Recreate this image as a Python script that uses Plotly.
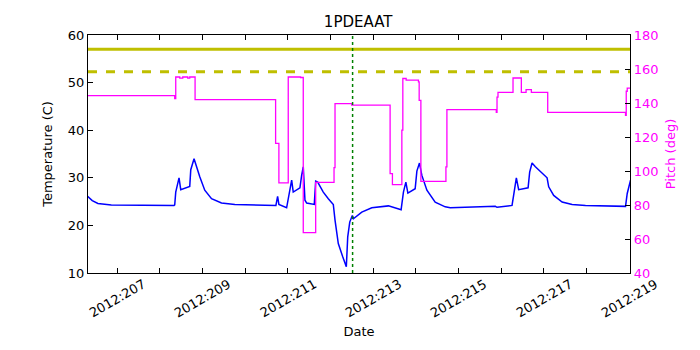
import plotly.graph_objects as go

# temperature (left axis), day-of-year 2012
temp_day = [206.31, 206.42, 206.552, 206.866, 208.336, 208.352, 208.376, 208.453, 208.493, 208.704,
            208.728, 208.805, 208.939, 209.056, 209.214, 209.448, 209.761, 210.582, 210.723, 210.763,
            210.793, 210.974, 211.028, 211.092, 211.129, 211.286, 211.326, 211.364, 211.404, 211.444,
            211.622, 211.655, 211.702, 211.833, 211.951, 212.068, 212.108, 212.185, 212.289, 212.373,
            212.406, 212.453, 212.514, 212.538, 212.735, 212.97, 213.359, 213.657, 213.711, 213.768,
            213.815, 213.986, 214.026, 214.087, 214.143, 214.261, 214.455, 214.69, 214.808, 215.864,
            215.904, 216.256, 216.293, 216.357, 216.411, 216.632, 216.669, 216.725, 216.803, 216.96,
            217.077, 217.115, 217.232, 217.43, 217.664, 217.977, 218.915, 218.955, 219.033]
temp_val = [26.1, 25.2, 24.6, 24.3, 24.2, 24.3, 27.0, 30.0, 27.5, 28.2,
            31.7, 34.0, 30.2, 27.4, 25.6, 24.7, 24.4, 24.3, 24.2, 26.1,
            24.4, 23.7, 26.3, 29.5, 27.0, 27.9, 30.5, 32.3, 25.3, 24.7,
            24.4, 29.3, 29.1, 27.0, 25.6, 24.4, 21.1, 16.2, 13.4, 11.3,
            17.6, 20.7, 22.1, 21.4, 22.8, 23.7, 24.1, 23.3, 27.0, 29.1,
            26.8, 27.7, 31.4, 33.1, 30.5, 27.4, 24.9, 23.9, 23.7, 24.0,
            23.8, 24.2, 26.3, 30.0, 27.5, 27.9, 31.2, 33.1, 32.3, 30.9,
            30.0, 28.1, 26.3, 24.9, 24.4, 24.2, 24.0, 26.7, 29.5]

# pitch (right axis), step segments
pitch_day = [206.31, 208.352, 208.376, 208.47, 208.54, 208.657, 208.704, 208.829, 210.716, 210.793,
             211.012, 211.30, 211.364, 211.655, 212.085, 212.108, 212.50, 213.399, 213.453, 213.674,
             213.697, 213.775, 214.063, 214.08, 214.12, 214.707, 214.73, 215.887, 215.904, 215.927,
             216.279, 216.474, 216.585, 216.709, 217.092, 218.915, 218.932, 218.955, 219.033]
pitch_val = [144.3, 142.6, 155.3, 154.6, 155.3, 154.6, 155.3, 142.0, 116.3, 93.0,
             155.3, 155.0, 63.8, 93.3, 102.0, 139.6, 138.7, 98.5, 92.0, 124.0,
             154.4, 153.4, 152.4, 141.6, 93.9, 102.4, 136.1, 134.5, 143.5, 146.3,
             154.7, 146.3, 147.9, 146.3, 134.5, 132.8, 146.9, 148.8, 148.8]

limit_planning = 57.0
limit_caution = 52.3
now_day = 212.52

tick_days = list(range(206, 220))
label_days = [207, 209, 211, 213, 215, 217, 219]

FONT = "DejaVu Sans"

fig = go.Figure()
fig.add_trace(go.Scatter(x=temp_day, y=temp_val, mode="lines",
                         line=dict(color="#0000ff", width=1.5), yaxis="y"))
fig.add_trace(go.Scatter(x=pitch_day, y=pitch_val, mode="lines", line_shape="hv",
                         line=dict(color="#ff00ff", width=1.3), yaxis="y2"))

fig.add_hline(y=limit_planning, line=dict(color="#bfbf00", width=3))
fig.add_hline(y=limit_caution, line=dict(color="#bfbf00", width=3, dash="dash"))
fig.add_vline(x=now_day, line=dict(color="#008000", width=1.5, dash="dot"))

# rotated date labels centred under their ticks
for d in label_days:
    fig.add_annotation(x=d, xref="x", y=0, yref="paper", yshift=-25,
                       text="2012:%d" % d, textangle=-30, showarrow=False,
                       xanchor="center", yanchor="middle",
                       font=dict(family=FONT, size=13, color="black"))

# page body adds an 8px margin, so the figure is sized to fit the window
fig.update_layout(
    width=692, height=342,
    margin=dict(l=80, r=70, t=27, b=77),
    paper_bgcolor="white", plot_bgcolor="white",
    showlegend=False,
    font=dict(family=FONT, size=13, color="black"),
    title=dict(text="1PDEAAT", x=0.506, xanchor="center", y=0.959, yanchor="middle",
               font=dict(family=FONT, size=15)),
    xaxis=dict(range=[206.32, 219.02], tickmode="array", tickvals=tick_days,
               ticktext=[""] * len(tick_days),
               ticks="inside", ticklen=5, tickcolor="black",
               showline=True, linecolor="black", linewidth=1.3, mirror="ticks",
               showgrid=False, zeroline=False,
               title=dict(text="Date", font=dict(size=13), standoff=51)),
    yaxis=dict(range=[10, 60], dtick=10, ticks="inside", ticklen=5, tickcolor="black",
               showline=True, linecolor="black", linewidth=1.3,
               showgrid=False, zeroline=False,
               title=dict(text="Temperature (C)", font=dict(size=13), standoff=12)),
    yaxis2=dict(range=[40, 180], dtick=20, overlaying="y", side="right",
                ticks="inside", ticklen=5, tickcolor="black",
                showline=True, linecolor="black", linewidth=1.3,
                showgrid=False, zeroline=False,
                tickfont=dict(color="#ff00ff", size=13),
                title=dict(text="Pitch (deg)", font=dict(size=13, color="#ff00ff"), standoff=8)),
)

fig.write_html("out.html")
